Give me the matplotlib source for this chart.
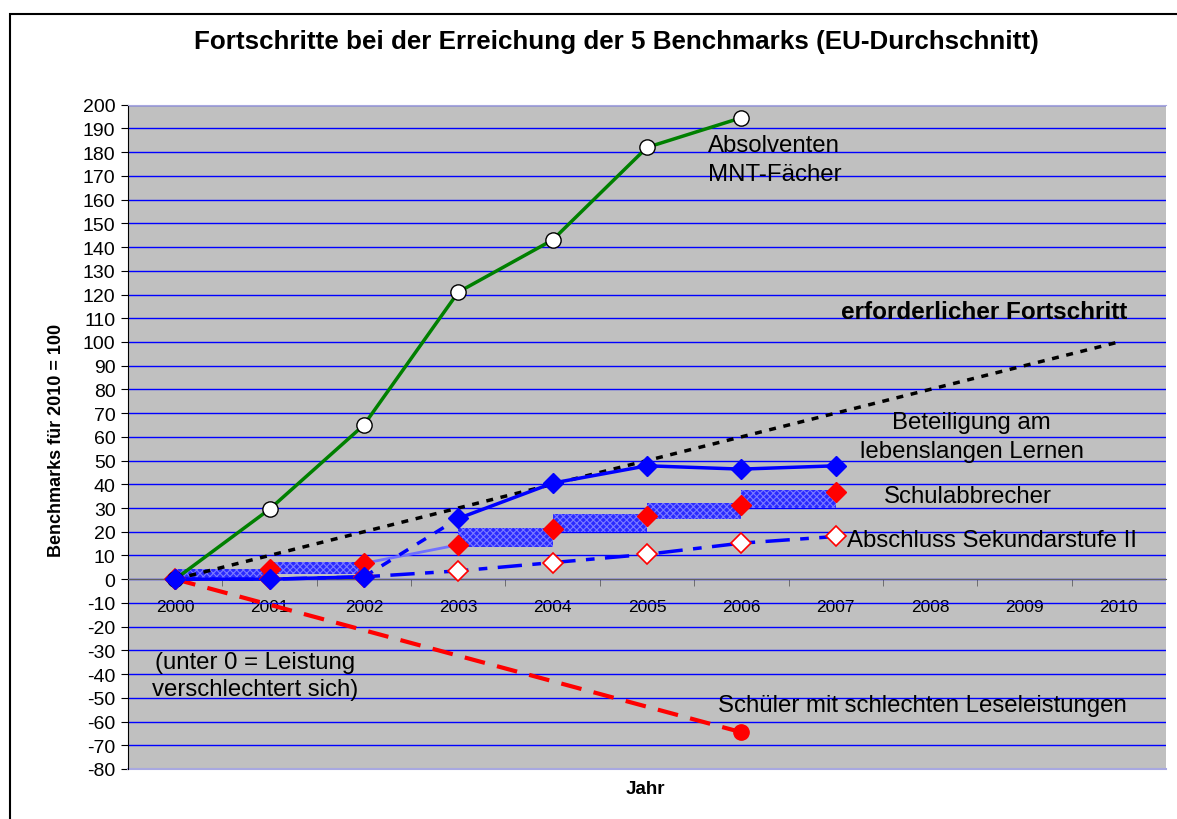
import matplotlib
matplotlib.use("Agg")
import matplotlib.pyplot as plt
import numpy as np
from matplotlib.patches import Rectangle

plt.rcParams['font.family'] = ['Liberation Sans', 'DejaVu Sans']
plt.rcParams['axes.unicode_minus'] = False
plt.rcParams['hatch.linewidth'] = 0.8

# --- data ---
years = ['2000', '2001', '2002', '2003', '2004', '2005', '2006', '2007', '2008', '2009', '2010']
required = [0, 10, 20, 30, 40, 50, 60, 70, 80, 90, 100]
mnt = [0, 29.5, 65, 121, 143, 182, 194.5]                # 2000-2006
lifelong_early = [0, 0, 1]                               # 2000-2002
lifelong = [25.6, 40.5, 47.8, 46.4, 47.8]                # 2003-2007
early_leavers = [0, 4.5, 6.7, 14.5, 21, 26.7, 31.2, 36.8]  # 2000-2007
upper_sec = [0, 0, 1, 3.5, 7, 10.5, 15.2, 18]          # 2000-2007
reading_years = [0, 6]
reading = [0, -64.5]
# hatched blocks between years (start index, low, high)
block_start = [0, 1, 3, 4, 5, 6]
block_lo = [-0.5, 2, 13.6, 19.7, 25.3, 30]
block_hi = [4.3, 7.3, 21.5, 27.4, 32, 37.5]

x = np.arange(len(years))

fig = plt.figure(figsize=(11.77, 8.2), dpi=100)
ax = fig.add_axes([128 / 1177, 50 / 820, 1038 / 1177, 664.3 / 820])
ax.set_facecolor('#c0c0c0')
ax.set_xlim(-0.5, 10.5)
ax.set_ylim(-80, 200)

# grid
ax.set_yticks(np.arange(-80, 201, 10))
ax.yaxis.grid(True, color='#0000ff', lw=1)
ax.set_axisbelow(True)

# spines
ax.spines['bottom'].set_position(('data', 0))
ax.spines['bottom'].set_color('#606060')
ax.spines['right'].set_visible(False)
ax.spines['top'].set_color('#a8a8e0')
ax.spines['left'].set_color('black')
ax.axhline(-80, color='#a8a8e0', lw=1.5, clip_on=False)

# x ticks: labels at the years, tick marks between them
ax.set_xticks(x)
ax.set_xticklabels(years, fontsize=12.5)
ax.tick_params(axis='x', which='major', length=0, pad=14)
ax.set_xticks(x[:-1] + 0.5, minor=True)
ax.tick_params(axis='x', which='minor', length=5, direction='out', color='#606060')
ax.tick_params(axis='y', length=5, labelsize=14, pad=4)

# hatched blocks
ax.bar(block_start, np.array(block_hi) - np.array(block_lo), width=1, bottom=block_lo,
       align='edge', color='#2a2aff', edgecolor='#7a7aff', hatch='xxxxx', lw=0, zorder=2)
ax.plot([2, 3], [early_leavers[2], early_leavers[3]], color='#7070ff', lw=2, zorder=2)

# required progress
ax.plot(x, required, color='black', lw=2.5, ls=(0, (2, 2.2)), zorder=3)

# reading
ax.plot(reading_years, reading, color='#ff0000', lw=3, ls=(0, (5, 3)), zorder=3)
ax.plot(reading_years[1:], reading[1:], 'o', color='#ff0000', ms=11, zorder=5)

# upper secondary
ax.plot(x[:8], upper_sec, color='#0000ff', lw=2.5, ls=(0, (7, 3, 2.5, 3)), zorder=3)
ax.plot(x[:8], upper_sec, 'D', ms=10, mfc='white', mec='#ff0000', mew=1.2, ls='none', zorder=4)

# early leavers markers
ax.plot(x[:8], early_leavers, 'D', ms=10, color='#ff0000', ls='none', zorder=4)

# lifelong learning
ax.plot(x[:3], lifelong_early, color='#0000ff', lw=2.5, zorder=3)
ax.plot([2, 3], [lifelong_early[-1], lifelong[0]], color='#0000ff', lw=2.5, ls=(0, (3, 3)), zorder=3)
ax.plot(x[3:8], lifelong, color='#0000ff', lw=2.5, zorder=3)

# MNT graduates
ax.plot(x[:7], mnt, color='#008000', lw=2.5, marker='o', ms=11, mfc='white', mec='black', mew=1, zorder=4)

ax.plot(x[:3], lifelong_early, 'D', ms=10, color='#0000ff', ls='none', zorder=5)
ax.plot(x[3:8], lifelong, 'D', ms=10, color='#0000ff', ls='none', zorder=5)

# annotations
fs = 17.3
ax.text(5.65, 177, 'Absolventen\nMNT-Fächer', fontsize=fs, ha='left', va='center', linespacing=1.4)
ax.text(8.57, 113, 'erforderlicher Fortschritt', fontsize=17.5, ha='center', va='center', fontweight='bold')
ax.text(8.44, 60, 'Beteiligung am\nlebenslangen Lernen', fontsize=fs, ha='center', va='center', linespacing=1.4)
ax.text(8.40, 35, 'Schulabbrecher', fontsize=fs, ha='center', va='center')
ax.text(7.12, 16.4, 'Abschluss Sekundarstufe II', fontsize=fs, ha='left', va='center')
ax.text(0.85, -40.5, '(unter 0 = Leistung\nverschlechtert sich)', fontsize=fs, ha='center', va='center', linespacing=1.3)
ax.text(5.75, -53, 'Schüler mit schlechten Leseleistungen', fontsize=fs, ha='left', va='center')

# titles
fig.text(616 / 1177, 1 - 42 / 820, 'Fortschritte bei der Erreichung der 5 Benchmarks (EU-Durchschnitt)',
         fontsize=18.7, fontweight='bold', ha='center', va='center')
fig.text(57 / 1177, 1 - 440 / 820, 'Benchmarks für 2010 = 100', fontsize=13, fontweight='bold',
         rotation=90, ha='center', va='center')
fig.text(645 / 1177, 1 - 790 / 820, 'Jahr', fontsize=13.5, fontweight='bold', ha='center', va='center')

# outer chart border
fig.patches.append(Rectangle((10 / 1177, -0.1), 1.2, 1.1 - 15 / 820, transform=fig.transFigure,
                             fill=False, edgecolor='black', lw=1.5))

fig.savefig('out.png', dpi=100)
